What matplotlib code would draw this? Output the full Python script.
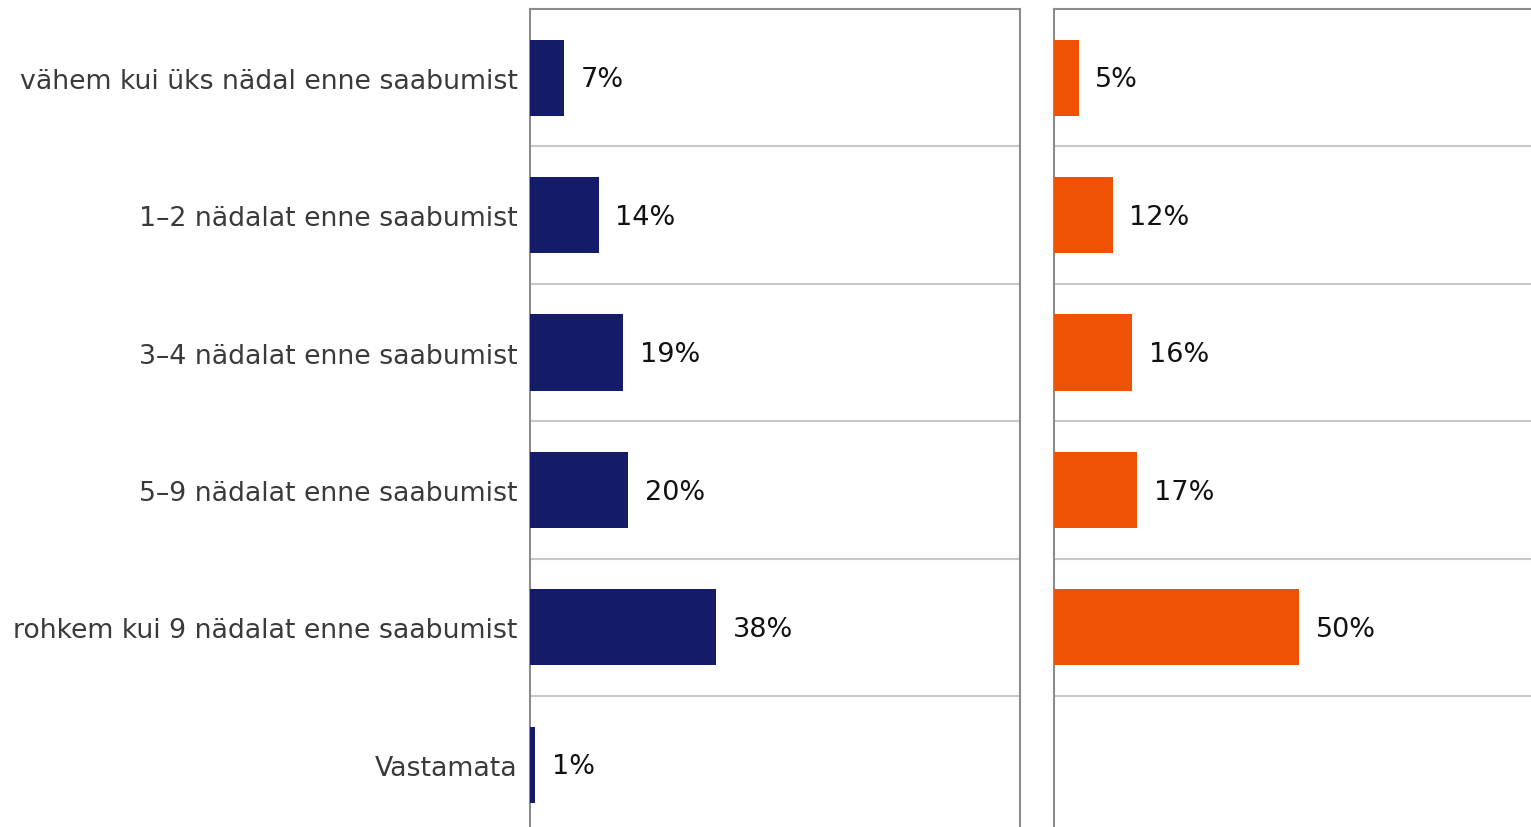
import matplotlib
matplotlib.use("Agg")
import matplotlib.pyplot as plt

categories = [
    "vähem kui üks nädal enne saabumist",
    "1–2 nädalat enne saabumist",
    "3–4 nädalat enne saabumist",
    "5–9 nädalat enne saabumist",
    "rohkem kui 9 nädalat enne saabumist",
    "Vastamata",
]
left_values = [7, 14, 19, 20, 38, 1]
right_values = [5, 12, 16, 17, 50, None]
left_color = "#141B69"
right_color = "#F05205"

W, H = 1531, 828
fig = plt.figure(figsize=(W / 100, H / 100), dpi=100)

top_px = 10
row_px = 137.4
n = len(categories)
bottom_px = top_px + row_px * n
ax_h = (bottom_px - top_px) / H
ax_b = 1 - bottom_px / H

def make_ax(x0_px, values, color, show_labels):
    ax = fig.add_axes([x0_px / W, ax_b, 490 / W, ax_h])
    ax.set_xlim(0, 100)
    ax.set_ylim(n - 0.5, -0.5)
    for i, v in enumerate(values):
        if v is None:
            continue
        ax.barh(i, v, height=0.555, color=color, zorder=3)
        ax.annotate(f"{v}%", xy=(v, i), xytext=(12, -1.2), textcoords="offset points",
                    va="center", ha="left", fontsize=19.5, color="#111111")
    for b in range(1, n):
        ax.axhline(b - 0.5, color="#c8c8c8", lw=1.5, zorder=1)
    ax.set_xticks([])
    ax.set_yticks(range(n))
    if show_labels:
        ax.set_yticklabels(categories, fontsize=19.3, color="#3a3a3a")
    else:
        ax.set_yticklabels([])
    ax.tick_params(axis="y", length=0, pad=9)
    for s in ["left", "right", "top"]:
        ax.spines[s].set_color("#8c8c8c")
        ax.spines[s].set_linewidth(1.5)
    ax.spines["bottom"].set_visible(False)
    return ax

make_ax(530, left_values, left_color, True)
make_ax(1054, right_values, right_color, False)

fig.savefig("out.png", dpi=100)
